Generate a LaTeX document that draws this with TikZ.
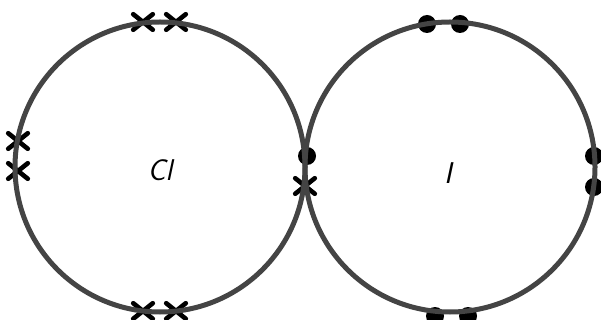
\documentclass[tikz,border=0pt]{standalone}
\usepackage{tikz}
\usetikzlibrary{shapes.misc}
\definecolor{ring}{HTML}{444444}
\tikzset{
  shell/.style={circle,draw=ring,line width=5pt,minimum size=290pt,inner sep=0pt},
  dotmark/.style={circle,fill=black,minimum size=18pt,inner sep=0pt},
  crossmark/.style={cross out,draw=black,line width=4.6pt,line cap=round,minimum width=15pt,minimum height=11pt,inner sep=0pt},
  elem/.style={font=\fontsize{30}{30}\selectfont\sffamily\slshape},
}
\begin{document}
\begin{tikzpicture}[x=1pt,y=-1pt]
\useasboundingbox (0,0) rectangle (601,320);
% electrons of Cl
\node[crossmark] (x1) at (143,22) {};
\node[crossmark] (x2) at (176,22) {};
\node[crossmark] (x3) at (18,141) {};
\node[crossmark] (x4) at (18,171) {};
\node[crossmark] (x5) at (143,311) {};
\node[crossmark] (x6) at (176,311) {};
\node[crossmark] (x7) at (305,186) {};
% electrons of I
\node[dotmark] (d1) at (427,24) {};
\node[dotmark] (d2) at (460,24) {};
\node[dotmark] (d3) at (594,156) {};
\node[dotmark] (d4) at (594,187) {};
\node[dotmark] (d5) at (435,316) {};
\node[dotmark] (d6) at (468,316) {};
\node[dotmark] (d7) at (307,156) {};
% shells
\node[shell] (cl) at (160,167) {};
\node[shell] (io) at (450,167) {};
\node[elem] (cllab) at (160,170) {Cl};
\node[elem] (iolab) at (448,173) {I};
\end{tikzpicture}
\end{document}
